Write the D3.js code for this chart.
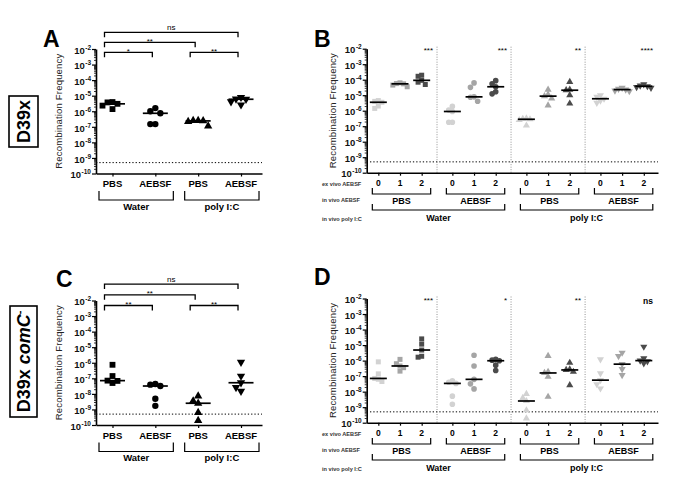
<!DOCTYPE html>
<html>
<head>
<meta charset="utf-8">
<script src="https://cdn.jsdelivr.net/npm/d3@7"></script>
<style>
  body { margin: 0; background: #fff; }
  svg text { font-family: "Liberation Sans", Arial, Helvetica, sans-serif; }
</style>
</head>
<body>
<svg id="fig" width="700" height="496"></svg>
<script>
// ---- categories / labels ----
const groupLabels = ["PBS", "AEBSF", "PBS", "AEBSF"];
const treatments = ["Water", "poly I:C"];
const exVivoDoses = ["0", "1", "2"];
const rowLabels = ["ex vivo AEBSF", "in vivo AEBSF", "in vivo poly I:C"];
const decades = [-10, -9, -8, -7, -6, -5, -4, -3, -2];
const detectionLimit = 5e-10;

// pairwise comparisons drawn above panels A and C: [from group, to group, level]
const comparisons = [[0, 1, 0], [2, 3, 0], [0, 2, 1], [0, 3, 2]];
const sigA = ["*", "**", "**", "ns"];
const sigC = ["**", "**", "**", "ns"];
const sigB = ["***", "***", "**", "****"];
const sigD = ["***", "*", "**", "ns"];

// ---- recombination frequencies ----
// A: D39x, in vivo groups (Water PBS, Water AEBSF, poly I:C PBS, poly I:C AEBSF)
const valuesA = [
  [3.9e-6, 3.0e-6, 1.38e-6, 2.3e-6, 3.7e-6],
  [1.0e-6, 7.4e-7, 1.6e-6, 1.5e-7, 1.5e-7],
  [2.5e-7, 2.4e-7, 1.1e-7, 2.2e-7, 2.5e-7],
  [7.9e-6, 5.9e-6, 2.6e-6, 4.1e-6, 6.2e-6]
];
// C: D39x comC-
const valuesC = [
  [7.1e-8, 5.0e-8, 7.4e-7, 6.8e-8, 1.4e-7],
  [3.9e-8, 3.2e-8, 4.3e-8, 4.9e-9, 1.7e-9],
  [7.2e-9, 2.5e-9, 3.5e-9, 6.2e-10, 1.9e-10],
  [1.1e-6, 1.4e-7, 5.2e-8, 2.6e-8, 1.5e-8]
];
// B: D39x, each in vivo group split by ex vivo AEBSF dose 0/1/2
const valuesB = [
  [[4.5e-6, 4.0e-6, 3.5e-6, 2.0e-6, 1.4e-6],
   [6.3e-5, 5.6e-5, 5.4e-5, 4.5e-5, 3.5e-5],
   [1.95e-4, 9.1e-5, 4.9e-5, 6.9e-5, 1.66e-4]],
  [[1.9e-6, 1.1e-6, 8.9e-7, 1.8e-7, 1.8e-7],
   [6.2e-5, 3.2e-5, 7.8e-6, 7.4e-6, 4.1e-6],
   [8.7e-5, 5.4e-5, 3.5e-5, 1.66e-5, 1.23e-5]],
  [[3.2e-7, 3.0e-7, 2.8e-7, 2.5e-7, 1.1e-7],
   [2.3e-5, 1.1e-5, 8.7e-6, 6.2e-6, 2.2e-6],
   [7.2e-5, 2.3e-5, 2.1e-5, 1.0e-5, 2.9e-6]],
  [[1.0e-5, 7.9e-6, 5.9e-6, 4.5e-6, 3.2e-6],
   [3.0e-5, 2.6e-5, 2.3e-5, 2.0e-5, 1.8e-5],
   [5.0e-5, 4.2e-5, 3.8e-5, 3.3e-5, 3.0e-5]]
];
// D: D39x comC-
const valuesD = [
  [[8.3e-7, 1.4e-7, 7.1e-8, 6.3e-8, 4.5e-8],
   [1.2e-6, 6.3e-7, 4.5e-7, 3.5e-7, 2.1e-7],
   [2.5e-5, 1.15e-5, 4.8e-6, 1.9e-6, 1.66e-6]],
  [[5.0e-8, 4.0e-8, 3.4e-8, 5.1e-9, 1.55e-9],
   [2.2e-6, 4.5e-7, 6.2e-8, 3.2e-8, 1.5e-8],
   [1.2e-6, 1.07e-6, 9.8e-7, 5.1e-7, 2.3e-7]],
  [[7.2e-9, 4.0e-9, 2.5e-9, 6.3e-10, 1.9e-10],
   [2.0e-6, 1.9e-7, 1.6e-7, 9.1e-8, 4.7e-9],
   [7.2e-7, 2.7e-7, 2.5e-7, 1.9e-7, 2.6e-8]],
  [[1.2e-6, 1.5e-7, 5.5e-8, 3.0e-8, 1.6e-8],
   [3.2e-6, 1.95e-6, 5.9e-7, 2.8e-7, 1.15e-7],
   [7.8e-6, 1.4e-6, 1.0e-6, 8.9e-7, 6.6e-7]]
];

// ---- drawing ----
const svg = d3.select("#fig");
const shapes = [d3.symbolSquare, d3.symbolCircle, d3.symbolTriangle, d3.symbolTriangle];
const flips = [0, 0, 0, 180];
const shades = ["#d2d2d2", "#a5a5a5", "#4b4b4b"];

// spread points sideways when they would overlap (like a scatter dot plot)
function swarm(vals, y, step, near) {
  const order = d3.range(vals.length).sort((a, b) => vals[b] - vals[a]);
  const placed = [];
  const offs = [];
  order.forEach(i => {
    const yi = y(vals[i]);
    for (const k of [0, -1, 1, -2, 2, -3, 3]) {
      if (placed.every(p => p.k !== k || Math.abs(p.y - yi) >= near)) {
        offs[i] = k * step;
        placed.push({ k, y: yi });
        break;
      }
    }
  });
  return offs;
}

function logAxis(g, y, ax) {
  const majors = decades.map(e => Math.pow(10, e));
  const minors = [];
  decades.slice(0, -1).forEach(e => d3.range(2, 10).forEach(m => minors.push(m * Math.pow(10, e))));

  const mn = g.append("g").attr("transform", `translate(${ax},0)`)
    .call(d3.axisLeft(y).tickValues(minors).tickSize(2).tickFormat(""));
  mn.select(".domain").remove();
  mn.selectAll("line").attr("stroke", "#000").attr("stroke-width", 0.8);

  const mj = g.append("g").attr("transform", `translate(${ax},0)`)
    .call(d3.axisLeft(y).tickValues(majors).tickSize(4).tickSizeOuter(0).tickPadding(1).tickFormat(""));
  mj.select(".domain").attr("stroke", "#000").attr("stroke-width", 1.6);
  mj.selectAll("line").attr("stroke", "#000").attr("stroke-width", 1.2);
  mj.attr("font-size", 9.5).attr("font-family", null).attr("font-weight", "bold");
  mj.selectAll(".tick text").each(function (d) {
    const t = d3.select(this).text("").attr("fill", "#111").attr("dy", "0.45em");
    t.append("tspan").text("10");
    t.append("tspan").attr("dy", -4).attr("dx", 0.5).attr("font-size", 6.5)
      .text("-" + Math.abs(Math.round(Math.log10(d))));
  });
}

function yLabel(g, x, yc) {
  g.append("text")
    .attr("transform", `translate(${x},${yc}) rotate(-90)`)
    .attr("text-anchor", "middle").attr("font-size", 9.5).attr("fill", "#222")
    .attr("textLength", 115).attr("lengthAdjust", "spacing")
    .text("Recombination  Frequency");
}

function bracketUnder(g, xa, xb, y1, y2) {
  g.append("path")
    .attr("d", `M${xa},${y1}V${y2}H${xb}V${y1}`)
    .attr("fill", "none").attr("stroke", "#000").attr("stroke-width", 1.2);
}

function letter(g, x, y, txt) {
  g.append("text").attr("x", x).attr("y", y)
    .attr("font-size", 23).attr("font-weight", "bold").text(txt);
}

// panels A and C
function groupedPanel(o) {
  const g = svg.append("g");
  const y = d3.scaleLog().domain([1e-10, 1e-2]).range([o.bottom, o.top]);
  const x = d3.scaleLinear().domain([-0.385, 3.49]).range([o.left, o.right]);

  g.append("line")
    .attr("x1", o.left).attr("x2", o.right)
    .attr("y1", y(detectionLimit)).attr("y2", y(detectionLimit))
    .attr("stroke", "#000").attr("stroke-width", 1).attr("stroke-dasharray", "1.3,2");

  o.values.forEach((vals, gi) => {
    const offs = swarm(vals, y, 5, 6);
    g.selectAll(null).data(vals).join("path")
      .attr("d", d3.symbol(shapes[gi], gi === 1 ? 32 : (gi === 0 ? 34 : 30)))
      .attr("transform", (d, i) => `translate(${x(gi) + offs[i]},${y(d)}) rotate(${flips[gi]})`)
      .attr("fill", "#000");
    const med = d3.median(vals);
    g.append("line")
      .attr("x1", x(gi) - 12.5).attr("x2", x(gi) + 12.5)
      .attr("y1", y(med)).attr("y2", y(med))
      .attr("stroke", "#000").attr("stroke-width", 1.7);
  });

  logAxis(g, y, o.left);
  const xa = g.append("g").attr("transform", `translate(0,${o.bottom})`)
    .call(d3.axisBottom(x).tickValues([0, 1, 2, 3]).tickSize(3).tickSizeOuter(0).tickFormat(""));
  xa.select(".domain").attr("stroke", "#000").attr("stroke-width", 1.6);
  xa.selectAll("line").attr("stroke", "#000").attr("stroke-width", 1.2);

  groupLabels.forEach((lab, i) => {
    g.append("text").attr("x", x(i)).attr("y", o.bottom + 13.5)
      .attr("text-anchor", "middle").attr("font-size", 9.5).attr("font-weight", "bold").text(lab);
  });
  treatments.forEach((t, k) => {
    const a = x(2 * k) - 13.5, b = x(2 * k + 1) + 18;
    bracketUnder(g, a, b, o.bottom + 17.5, o.bottom + 26.5);
    g.append("text").attr("x", (a + b) / 2).attr("y", o.bottom + 36)
      .attr("text-anchor", "middle").attr("font-size", 9.5).attr("font-weight", "bold").text(t);
  });

  comparisons.forEach((c, k) => {
    const ly = o.top + o.brBase - o.brGap * c[2];
    const a = x(c[0]) - 8, b = x(c[1]) - 3;
    g.append("path")
      .attr("d", `M${a},${ly + 5}V${ly}H${b}V${ly + 5}`)
      .attr("fill", "none").attr("stroke", "#000").attr("stroke-width", 1.3);
    const lab = o.sig[k];
    g.append("text").attr("x", (a + b) / 2).attr("y", lab === "ns" ? ly - 2 : ly + 1.5)
      .attr("text-anchor", "middle").attr("font-size", 8).text(lab);
  });

  yLabel(g, o.ylabX, (o.top + o.bottom) / 2);
  letter(g, o.letterX, o.letterY, o.letter);
}

// panels B and D
function dosePanel(o) {
  const g = svg.append("g");
  const y = d3.scaleLog().domain([1e-10, 1e-2]).range([o.bottom, o.top]);
  const pos = (gi, di) => gi * 3.415 + di;
  const x = d3.scaleLinear().domain([-0.536, 12.9]).range([o.left, o.right]);

  g.append("line")
    .attr("x1", o.left).attr("x2", o.right)
    .attr("y1", y(detectionLimit)).attr("y2", y(detectionLimit))
    .attr("stroke", "#000").attr("stroke-width", 1).attr("stroke-dasharray", "1.3,2");

  // separators between in vivo groups
  d3.range(3).forEach(gi => {
    const sx = x((pos(gi, 2) + pos(gi + 1, 0)) / 2);
    g.append("line").attr("x1", sx).attr("x2", sx).attr("y1", o.top - 2).attr("y2", o.bottom)
      .attr("stroke", "#777").attr("stroke-width", 0.8).attr("stroke-dasharray", "1,1.5");
  });

  o.values.forEach((grp, gi) => {
    grp.forEach((vals, di) => {
      const cx = x(pos(gi, di));
      const offs = swarm(vals, y, 3.6, 4.6);
      g.selectAll(null).data(vals).join("path")
        .attr("d", d3.symbol(shapes[gi], gi === 2 || gi === 3 ? 22 : 25))
        .attr("transform", (d, i) => `translate(${cx + offs[i]},${y(d)}) rotate(${flips[gi]})`)
        .attr("fill", shades[di]);
      const med = d3.median(vals);
      g.append("line")
        .attr("x1", cx - 8.5).attr("x2", cx + 8.5)
        .attr("y1", y(med)).attr("y2", y(med))
        .attr("stroke", "#000").attr("stroke-width", 1.7);
    });
    const right = gi < 3 ? x((pos(gi, 2) + pos(gi + 1, 0)) / 2) : o.right;
    const lab = o.sig[gi];
    g.append("text").attr("x", right - (gi < 3 ? 4 : 5))
      .attr("y", lab === "ns" ? o.top + 5.5 : o.top + 4.5)
      .attr("text-anchor", "end").attr("font-size", lab === "ns" ? 8.5 : 8)
      .attr("font-weight", lab === "ns" ? "bold" : "normal").text(lab);
  });

  logAxis(g, y, o.left);
  const ticks = [];
  d3.range(4).forEach(gi => d3.range(3).forEach(di => ticks.push(pos(gi, di))));
  const xa = g.append("g").attr("transform", `translate(0,${o.bottom})`)
    .call(d3.axisBottom(x).tickValues(ticks).tickSize(3).tickSizeOuter(0).tickFormat(""));
  xa.select(".domain").attr("stroke", "#000").attr("stroke-width", 1.6);
  xa.selectAll("line").attr("stroke", "#000").attr("stroke-width", 1.2);

  d3.range(4).forEach(gi => {
    exVivoDoses.forEach((d, di) => {
      g.append("text").attr("x", x(pos(gi, di))).attr("y", o.bottom + 13.5)
        .attr("text-anchor", "middle").attr("font-size", 8.5).attr("font-weight", "bold").text(d);
    });
    const a = x(pos(gi, 0)) - 6, b = x(pos(gi, 2)) + 9;
    bracketUnder(g, a, b, o.bottom + 15.3, o.bottom + 21.3);
    g.append("text").attr("x", (a + b) / 2).attr("y", o.bottom + 31.5)
      .attr("text-anchor", "middle").attr("font-size", 9).attr("font-weight", "bold").text(groupLabels[gi]);
  });
  treatments.forEach((t, k) => {
    const a = x(pos(2 * k, 0)) - 6, b = x(pos(2 * k + 1, 2)) + 9;
    bracketUnder(g, a, b, o.bottom + 31.3, o.bottom + 37.3);
    g.append("text").attr("x", (a + b) / 2).attr("y", o.bottom + 48.5)
      .attr("text-anchor", "middle").attr("font-size", 9).attr("font-weight", "bold").text(t);
  });
  rowLabels.forEach((r, i) => {
    g.append("text").attr("x", 322).attr("y", o.bottom + [13.3, 29.3, 48.6][i])
      .attr("font-size", 5.6).attr("font-weight", "bold").attr("fill", "#333").text(r);
  });

  yLabel(g, o.ylabX, (o.top + o.bottom) / 2);
  letter(g, o.letterX, o.letterY, o.letter);
}

groupedPanel({ values: valuesA, sig: sigA, top: 49, bottom: 173.5, left: 96, right: 262,
  brBase: 3.3, brGap: 10, ylabX: 62, letter: "A", letterX: 43, letterY: 47 });
groupedPanel({ values: valuesC, sig: sigC, top: 300.5, bottom: 425, left: 96, right: 262,
  brBase: 5, brGap: 10.7, ylabX: 62, letter: "C", letterX: 56, letterY: 287 });
dosePanel({ values: valuesB, sig: sigB, top: 48.7, bottom: 172.7, left: 366.7, right: 658,
  ylabX: 336, letter: "B", letterX: 314, letterY: 47 });
dosePanel({ values: valuesD, sig: sigD, top: 298.5, bottom: 422.7, left: 366.7, right: 658,
  ylabX: 336, letter: "D", letterX: 314, letterY: 285 });

// strain labels
const sA = svg.append("g");
sA.append("rect").attr("x", 9).attr("y", 96).attr("width", 29).attr("height", 51)
  .attr("fill", "none").attr("stroke", "#000").attr("stroke-width", 1.6);
sA.append("text").attr("transform", "translate(30,121.5) rotate(-90)")
  .attr("text-anchor", "middle").attr("font-size", 18).attr("font-weight", "bold").text("D39x");

const sC = svg.append("g");
sC.append("rect").attr("x", 10).attr("y", 306).attr("width", 27).attr("height", 111)
  .attr("fill", "none").attr("stroke", "#000").attr("stroke-width", 1.6);
const tC = sC.append("text").attr("transform", "translate(30,361.5) rotate(-90)")
  .attr("text-anchor", "middle").attr("font-size", 18).attr("font-weight", "bold");
tC.append("tspan").text("D39x ");
tC.append("tspan").attr("font-style", "italic").text("comC");
tC.append("tspan").attr("dy", -7).attr("font-size", 11).text("-");
</script>
</body>
</html>
